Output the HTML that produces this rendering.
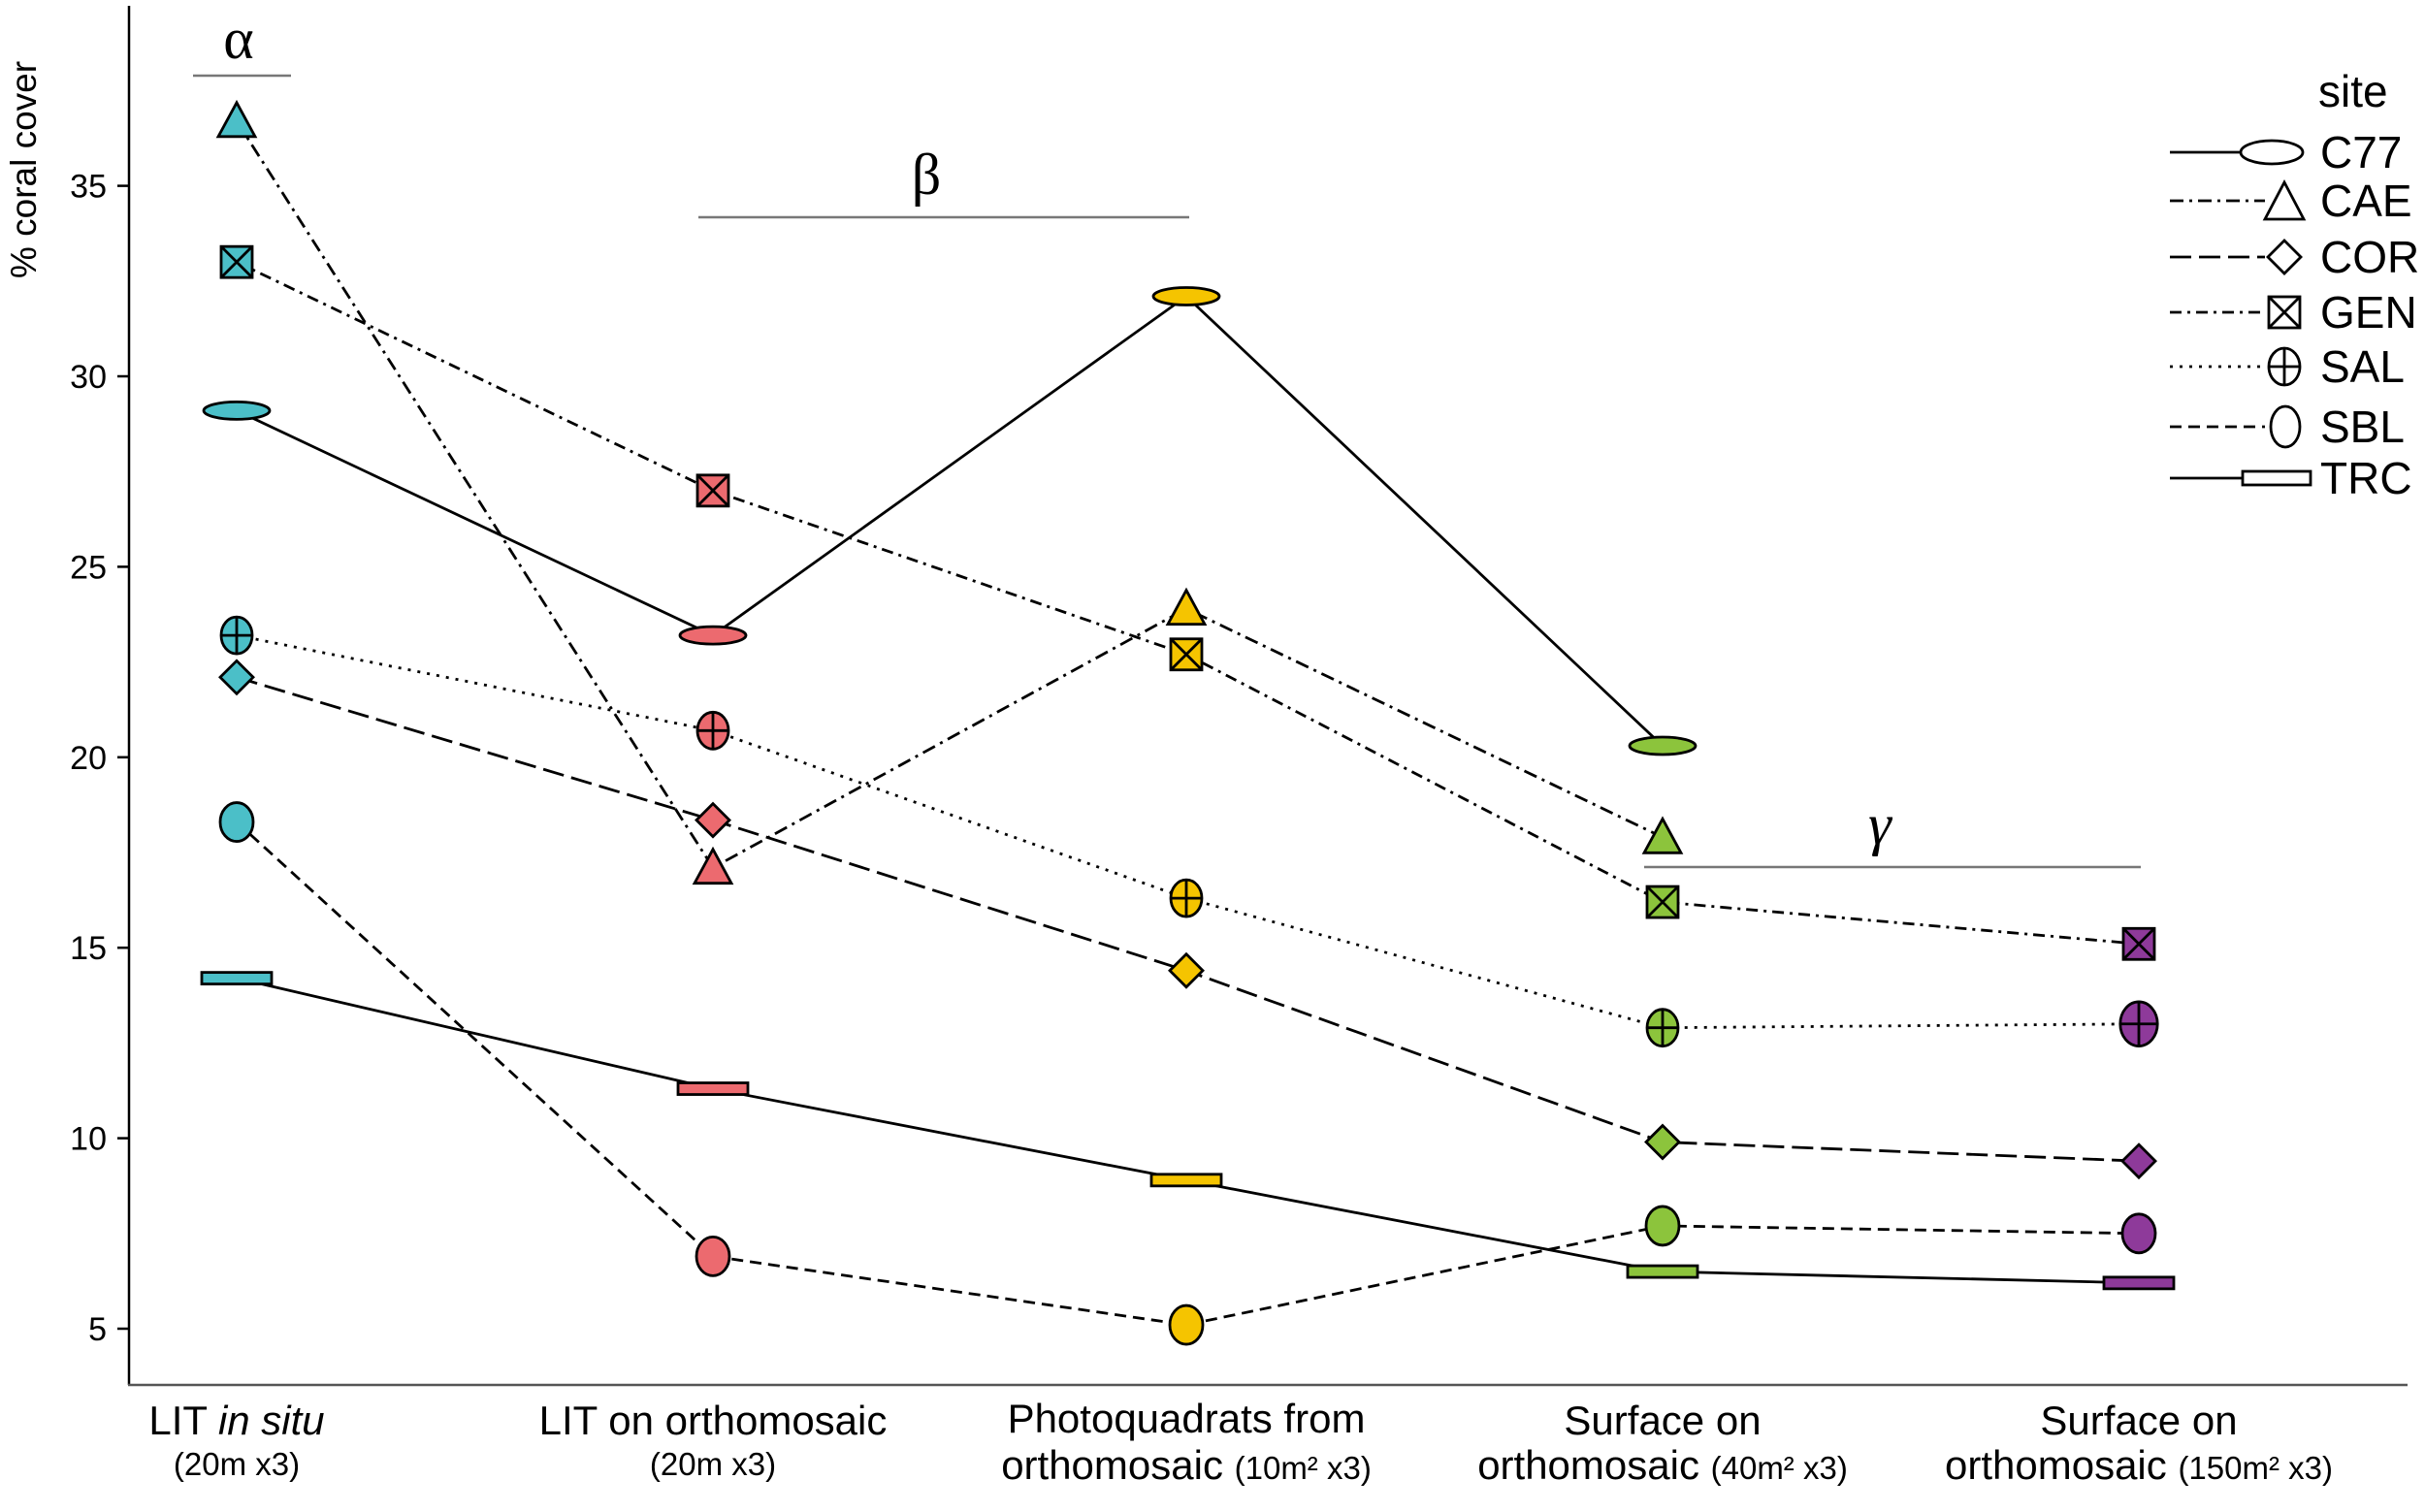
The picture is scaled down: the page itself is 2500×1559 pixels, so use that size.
<!DOCTYPE html>
<html><head><meta charset="utf-8"><style>
html,body{margin:0;padding:0;background:#fff;}
svg{display:block;font-family:"Liberation Sans",Arial,sans-serif;}
</style></head><body>
<svg id="s" width="2500" height="1559" viewBox="0 0 2500 1559" xmlns="http://www.w3.org/2000/svg">
<rect width="2500" height="1559" fill="#fff"/>
<g stroke="#000" stroke-width="2.5">
<line x1="133" y1="6" x2="133" y2="1428"/>
<line x1="132" y1="1428" x2="2482" y2="1428" stroke="#555"/>
</g>
<g id="ticks"></g>
<text transform="translate(37,175) rotate(-90)" font-size="37" text-anchor="middle">% coral cover</text>
<g font-size="42" text-anchor="middle">
<text x="244" y="1479">LIT <tspan font-style="italic">in situ</tspan></text>
<text x="244" y="1521" font-size="33">(20m x3)</text>
<text x="735" y="1479">LIT on orthomosaic</text>
<text x="735" y="1521" font-size="33">(20m x3)</text>
<text x="1223" y="1477">Photoquadrats from</text>
<text x="1223" y="1525">orthomosaic <tspan font-size="33">(10m² x3)</tspan></text>
<text x="1714" y="1479">Surface on</text>
<text x="1714" y="1525">orthomosaic <tspan font-size="33">(40m² x3)</tspan></text>
<text x="2205" y="1479">Surface on</text>
<text x="2205" y="1525">orthomosaic <tspan font-size="33">(150m² x3)</tspan></text>
</g>
<g stroke="#777" stroke-width="2.5">
<line x1="199" y1="78" x2="300" y2="78"/>
<line x1="720" y1="224" x2="1226" y2="224"/>
<line x1="1695" y1="894" x2="2207" y2="894"/>
</g>
<g font-family="'Liberation Serif',serif" font-size="60" text-anchor="middle">
<text x="246" y="60">α</text>
<text x="955" y="200">β</text>
<text x="1938" y="870" font-style="italic">γ</text>
</g>
<g id="lines" fill="none" stroke="#000" stroke-width="2.8"></g>
<g id="marks" stroke="#000" stroke-width="2.8"></g>
<g id="legend" font-size="46"></g>
</svg>
<script>
var NS="http://www.w3.org/2000/svg";
function el(p,t,a){var e=document.createElementNS(NS,t);for(var k in a)e.setAttribute(k,a[k]);p.appendChild(e);return e;}
function Y(v){return 1370-(v-5)*39.28;}
var X=[244,735,1223,1714,2205];
var C=["#4bbfc8","#ec6a6f","#f5c400","#8cc43c","#8e3a9a"];
var tk=document.getElementById("ticks");
[5,10,15,20,25,30,35].forEach(function(v){var y=Y(v);
el(tk,"line",{x1:121,y1:y,x2:133,y2:y,stroke:"#000","stroke-width":2.5});
var t=el(tk,"text",{x:110,y:y+12,"font-size":34,"text-anchor":"end"});t.textContent=v;});
var D={
C77:{d:[29.1,23.2,32.1,20.3,null],s:""},
CAE:{d:[36.7,17.1,23.9,17.9,null],s:"14,6,3,6"},
COR:{d:[22.1,18.35,14.4,9.9,9.4],s:"22,8"},
GEN:{d:[33.0,27.0,22.7,16.2,15.1],s:"12,6,3,6"},
SAL:{d:[23.2,20.7,16.3,12.9,13.0],s:"3,7"},
SBL:{d:[18.3,6.9,5.1,7.7,7.5],s:"12,7"},
TRC:{d:[14.2,11.3,8.9,6.5,6.2],s:""}};
var L=document.getElementById("lines"),M=document.getElementById("marks");
function mark(p,n,x,y,f,big){
 var k=big?1.2:1;
 if(n=="C77")el(p,"ellipse",{cx:x,cy:y,rx:34,ry:9,fill:f});
 else if(n=="CAE")el(p,"polygon",{points:(x-19)+","+(y+16)+" "+(x+19)+","+(y+16)+" "+x+","+(y-19),fill:f});
 else if(n=="COR")el(p,"polygon",{points:x+","+(y-17)+" "+(x+17)+","+y+" "+x+","+(y+17)+" "+(x-17)+","+y,fill:f});
 else if(n=="GEN"){el(p,"rect",{x:x-16,y:y-16,width:32,height:32,fill:f});el(p,"path",{d:"M"+(x-16)+" "+(y-16)+"L"+(x+16)+" "+(y+16)+"M"+(x+16)+" "+(y-16)+"L"+(x-16)+" "+(y+16),fill:"none"});}
 else if(n=="SAL"){var rx=16*k,ry=19*k;el(p,"ellipse",{cx:x,cy:y,rx:rx,ry:ry,fill:f});el(p,"path",{d:"M"+(x-rx)+" "+y+"H"+(x+rx)+"M"+x+" "+(y-ry)+"V"+(y+ry),fill:"none"});}
 else if(n=="SBL")el(p,"ellipse",{cx:x,cy:y,rx:17,ry:20,fill:f});
 else if(n=="TRC")el(p,"rect",{x:x-36,y:y-6,width:72,height:12,fill:f});
}
for(var n in D){var o=D[n],pts=[];
 o.d.forEach(function(v,i){if(v!=null)pts.push(X[i]+","+Y(v));});
 var a={points:pts.join(" ")};if(o.s)a["stroke-dasharray"]=o.s;el(L,"polyline",a);
 o.d.forEach(function(v,i){if(v!=null)mark(M,n,X[i],Y(v),C[i],i==4&&n=="SAL");});}
var G=document.getElementById("legend");
var t=el(G,"text",{x:2390,y:110});t.textContent="site";
var ly={C77:157,CAE:207,COR:265,GEN:322,SAL:378,SBL:440,TRC:493};
for(var n in ly){var y=ly[n];var a={x1:2237,y1:y,x2:2335,y2:y,stroke:"#000","stroke-width":2.8};if(D[n].s)a["stroke-dasharray"]=D[n].s;el(G,"line",a);
 var g=el(G,"g",{stroke:"#000","stroke-width":2.8});
 if(n=="C77")el(g,"ellipse",{cx:2342,cy:y,rx:32,ry:12,fill:"#fff"});
 else if(n=="TRC")el(g,"rect",{x:2312,y:y-7,width:70,height:14,fill:"#fff"});
 else if(n=="SBL")el(g,"ellipse",{cx:2356,cy:y,rx:15,ry:21,fill:"#fff"});
 else if(n=="CAE")el(g,"polygon",{points:"2335,"+(y+19)+" 2375,"+(y+19)+" 2355,"+(y-19),fill:"#fff"});
 else mark(g,n,2355,y,"#fff");
 var t=el(G,"text",{x:2392,y:y+16});t.textContent=n;}
</script>
</body></html>
